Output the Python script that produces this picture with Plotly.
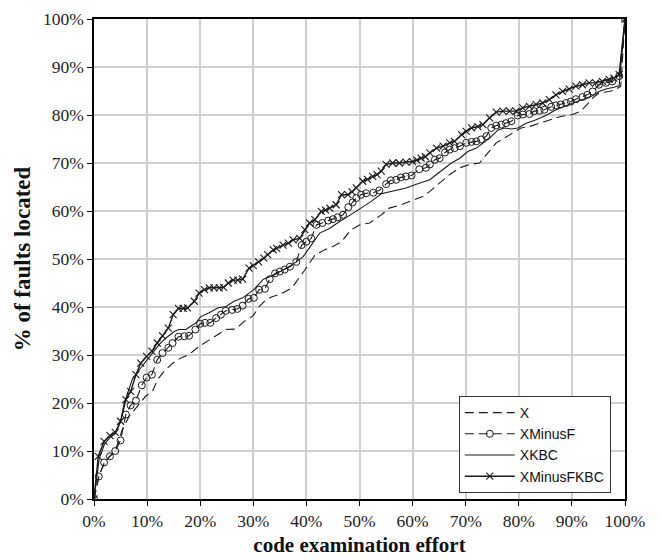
import plotly.graph_objects as go

# ---- data ----
x_X = [0, 1.0, 2.0, 3.0, 4.0, 5.3, 6.6, 8.5, 9.7, 11.0, 12.0, 13.2, 14.8, 16.4, 17.9, 19.8, 20.8, 23.0,
       24.8, 26.7, 28.3, 30.0, 31.1, 32.3, 33.4, 35.3, 37.2, 39.7, 41.6, 43.4, 45.0, 46.6, 48.4, 50.0,
       51.9, 54.1, 55.6, 57.8, 60.0, 61.9, 63.25, 65.1, 67.0, 68.9, 70.75, 72.6, 74.2, 75.75, 77.3,
       78.9, 80.4, 82.0, 83.9, 85.75, 87.9, 90.1, 91.7, 92.9, 93.9, 95.1, 97.0, 98.25, 99.2, 100]
y_X = [0, 5.0, 7.5, 9.0, 10.0, 14.4, 17.2, 19.7, 21.4, 22.4, 24.9, 26.6, 28.3, 29.4, 30.1, 31.8, 32.5, 33.9,
       35.3, 35.4, 37.0, 38.2, 40.1, 41.4, 42.1, 42.8, 43.9, 47.7, 50.8, 51.9, 52.6, 53.6, 56.1, 57.1,
       57.5, 59.2, 60.6, 61.3, 62.3, 63.0, 64.1, 65.8, 67.6, 69.0, 69.7, 70.0, 72.1, 74.2, 75.2,
       76.25, 77.3, 77.6, 78.3, 79.0, 79.7, 80.1, 80.8, 82.2, 83.5, 84.6, 84.9, 85.3, 86.0, 100]

x_XMinusF = [0, 0.9, 1.9, 3.0, 4.0, 5.0, 6.0, 6.9, 7.9, 9.0, 9.9, 10.9, 11.9, 12.9, 14.0, 14.8, 15.9, 17.0,
             17.9, 19.1, 20.0, 20.9, 21.9, 23.0, 23.9, 24.8, 26.0, 27.0, 28.0, 29.1, 30.1, 31.1, 32.2,
             33.1, 34.1, 35.0, 35.9, 36.9, 38.1, 39.1, 40.0, 40.9, 41.9, 43.0, 44.1, 45.0, 45.9, 46.9,
             47.9, 48.7, 49.4, 50.3, 51.25, 52.6, 53.75, 55.0, 55.9, 56.9, 57.8, 58.75, 59.8, 61.25,
             62.5, 63.25, 64.2, 65.1, 66.1, 67.0, 67.9, 68.9, 70.1, 71.1, 72.0, 72.9, 73.9, 74.8, 75.75,
             76.7, 77.6, 78.6, 79.8, 80.75, 82.0, 82.9, 83.9, 84.8, 86.1, 87.0, 87.9, 88.9, 89.8, 90.75,
             92.0, 92.9, 93.9, 95.1, 96.4, 97.6, 98.9, 100]
y_XMinusF = [0, 4.7, 7.6, 8.9, 10.0, 12.2, 17.6, 19.5, 20.5, 23.7, 25.3, 25.9, 29.0, 30.4, 31.5, 32.5, 33.8, 33.9,
             34.0, 35.3, 36.5, 36.7, 36.7, 37.7, 38.4, 39.2, 39.4, 39.6, 40.3, 41.7, 41.9, 43.6, 43.8,
             45.8, 47.0, 47.4, 47.8, 48.4, 49.4, 52.9, 53.6, 54.3, 57.1, 57.5, 58.0, 58.3, 58.7, 59.2,
             60.8, 61.8, 62.7, 63.4, 63.7, 63.8, 64.3, 65.6, 66.4, 66.5, 67.0, 67.2, 67.4, 68.7,
             69.0, 69.7, 70.7, 71.0, 72.2, 72.8, 73.1, 73.5, 74.2, 74.4, 74.5, 74.9, 75.6, 77.3, 77.8,
             78.0, 78.3, 78.7, 79.9, 80.1, 80.2, 80.8, 80.9, 81.1, 81.7, 82.0, 82.2, 82.5, 82.8, 83.3,
             83.75, 84.2, 84.9, 86.3, 86.7, 87.0, 88.1, 100]

x_XKBC = [0, 1.0, 2.0, 3.0, 4.0, 5.0, 5.7, 7.2, 8.8, 10.0, 11.0, 12.3, 13.5, 15.1, 16.0, 17.3, 18.2, 19.2,
          20.1, 21.7, 23.3, 24.8, 26.4, 28.0, 29.2, 30.0, 31.9, 34.0, 36.25, 38.1, 39.4, 40.9, 42.5,
          44.4, 46.25, 48.75, 50.3, 52.2, 54.1, 56.25, 58.75, 61.25, 63.25, 64.5, 66.1, 67.3, 68.9,
          70.4, 72.0, 73.25, 74.5, 76.1, 77.3, 78.6, 79.8, 81.4, 83.25, 85.1, 87.0, 88.6, 90.1, 92.0,
          93.9, 95.1, 96.4, 97.9, 98.9, 100]
y_XKBC = [0, 8.5, 11.5, 12.8, 13.6, 16.0, 20.0, 24.9, 27.3, 29.0, 30.4, 32.2, 33.5, 34.9, 35.3, 35.3, 36.0, 36.7,
          38.0, 38.8, 39.8, 40.1, 41.2, 41.9, 42.9, 43.5, 45.8, 46.7, 48.1, 49.4, 50.5, 52.9, 55.4,
          56.4, 57.8, 59.5, 60.6, 62.0, 63.6, 64.1, 64.8, 65.8, 66.5, 67.6, 69.0, 70.0, 71.0,
          72.4, 73.1, 74.2, 75.2, 76.9, 77.3, 77.1, 77.3, 78.3, 79.0, 79.9, 81.1, 81.8, 82.4, 83.2,
          84.0, 84.9, 85.4, 85.8, 86.1, 100]

x_XMinusFKBC = [0, 0.8, 1.9, 3.0, 4.0, 5.0, 6.0, 6.9, 7.9, 8.8, 9.9, 10.9, 11.9, 12.9, 14.0, 14.9, 15.9, 16.8,
                17.6, 18.9, 19.8, 20.8, 21.7, 22.6, 23.6, 24.4, 25.3, 26.2, 27.1, 28.0, 29.2, 30.0, 31.0,
                32.0, 32.7, 33.75, 34.4, 35.6, 36.6, 37.5, 38.75, 39.7, 40.6, 41.6, 42.8, 43.6, 44.4,
                45.6, 46.6, 47.8, 48.6, 49.4, 50.6, 51.5, 52.5, 53.3, 54.1, 55.0, 56.25, 57.5, 58.75,
                60.0, 60.8, 61.6, 62.4, 63.25, 64.5, 65.75, 67.0, 67.9, 69.2, 70.1, 71.1, 72.3, 73.25,
                74.5, 75.75, 77.0, 78.25, 79.5, 80.75, 82.0, 83.25, 84.5, 85.75, 87.0, 88.25, 89.5,
                90.75, 92.0, 93.25, 94.5, 95.75, 97.0, 97.9, 98.9, 100]
y_XMinusFKBC = [0, 8.9, 12.0, 13.2, 13.9, 16.2, 20.7, 22.4, 25.9, 28.3, 29.7, 30.8, 32.5, 34.0, 35.6, 38.4, 39.7, 39.7,
                39.8, 41.2, 42.9, 43.6, 44.0, 44.0, 44.0, 44.1, 45.0, 45.6, 45.6, 45.8, 48.1, 48.6, 49.4,
                50.2, 50.9, 51.9, 52.2, 52.9, 53.3, 54.0, 54.3, 56.1, 57.5, 58.2, 59.9, 60.2, 60.6,
                61.3, 63.4, 63.4, 64.0, 64.8, 66.2, 66.6, 67.2, 67.6, 68.3, 69.7, 70.0, 70.0, 70.2,
                70.3, 70.6, 71.0, 71.3, 72.1, 73.1, 73.5, 74.2, 74.5, 75.9, 76.6, 77.3, 77.6, 78.0,
                79.4, 80.6, 80.8, 80.8, 80.8, 81.5, 81.8, 82.2, 82.5, 83.2, 84.2, 84.9, 85.4,
                86.0, 86.3, 86.7, 86.7, 87.0, 87.4, 87.7, 88.4, 100]

tick_vals = [0, 10, 20, 30, 40, 50, 60, 70, 80, 90, 100]
tick_text = ["0%", "10%", "20%", "30%", "40%", "50%", "60%", "70%", "80%", "90%", "100%"]

INK = "#1a1a1a"
SERIF = "Liberation Serif, Times New Roman, serif"
fig = go.Figure()
fig.add_trace(go.Scatter(x=x_X, y=y_X, name="X", mode="lines",
                         line=dict(color=INK, width=1.1, dash="9px,5px")))
fig.add_trace(go.Scatter(x=x_XMinusF, y=y_XMinusF, name="XMinusF", mode="lines+markers",
                         line=dict(color=INK, width=1.1, dash="9px,5px"),
                         marker=dict(symbol="circle-open", size=7, color=INK, line=dict(width=1, color=INK))))
fig.add_trace(go.Scatter(x=x_XKBC, y=y_XKBC, name="XKBC", mode="lines",
                         line=dict(color=INK, width=1.1)))
fig.add_trace(go.Scatter(x=x_XMinusFKBC, y=y_XMinusFKBC, name="XMinusFKBC", mode="lines+markers",
                         line=dict(color=INK, width=1.4),
                         marker=dict(symbol="x-thin-open", size=7, color=INK, line=dict(width=1.1, color=INK))))

axis_common = dict(range=[0, 100], tickvals=tick_vals, ticktext=tick_text,
                   showgrid=True, gridcolor="#cfcfcf", gridwidth=1.5,
                   showline=True, linecolor="black", linewidth=1.5, mirror=True,
                   ticks="outside", ticklen=5, tickcolor="black", tickwidth=1,
                   zeroline=False, automargin=False,
                   tickfont=dict(family=SERIF, size=17.5, color="#222"))

fig.update_layout(
    width=654, height=552,
    margin=dict(l=86, r=37, t=11, b=61, autoexpand=False),
    paper_bgcolor="white", plot_bgcolor="white",
    xaxis=dict(**axis_common,
               title=dict(text="<b>code examination effort</b>", standoff=8,
                          font=dict(family=SERIF, size=21, color="#111"))),
    yaxis=dict(**axis_common,
               title=dict(text="<b>% of faults located</b>", standoff=6,
                          font=dict(family=SERIF, size=23, color="#111"))),
    legend=dict(x=0.687, y=0.2146, xanchor="left", yanchor="top",
                bgcolor="white", bordercolor="#333", borderwidth=1,
                itemwidth=50,
                font=dict(family="Liberation Sans, Arial, sans-serif", size=14, color="#111"),
                tracegroupgap=0),
    showlegend=True,
)

fig.write_html("out.html")
